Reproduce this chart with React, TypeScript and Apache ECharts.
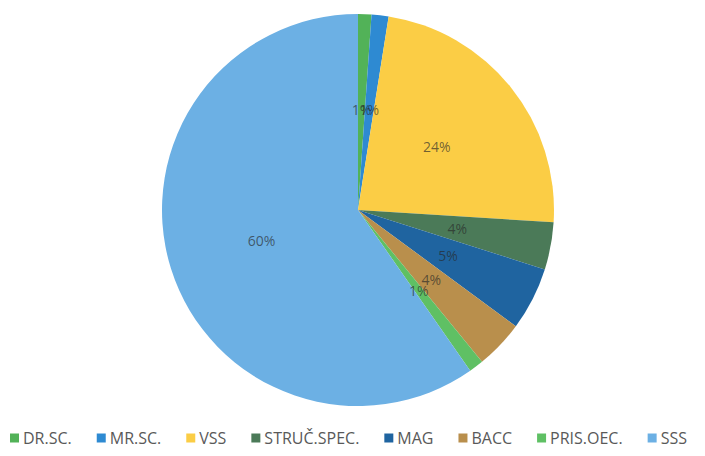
import React, { useEffect, useRef } from "react";
import * as echarts from "echarts";

const categories = ["DR.SC.", "MR.SC.", "VSS", "STRUČ.SPEC.", "MAG", "BACC", "PRIS.OEC.", "SSS"];
const values = [1.1, 1.4, 23.5, 3.9, 5.2, 4.0, 1.2, 59.7];
const colors = ["#52b258", "#2e8ad2", "#fbcd45", "#4b7a58", "#1f64a0", "#b98f4c", "#5fc064", "#6cb0e4"];

export default function App() {
  const ref = useRef<HTMLDivElement>(null);
  useEffect(() => {
    document.body.style.margin = "0";
    const chart = echarts.init(ref.current!, null, { renderer: "svg" });
    const total = values.reduce((a, b) => a + b, 0);
    chart.setOption({
      animation: false,
      backgroundColor: "#ffffff",
      color: colors,
      legend: {
        data: categories,
        left: 5,
        top: 425,
        padding: [5, 0, 5, 5],
        itemWidth: 9,
        itemHeight: 9,
        itemGap: 25,
        icon: "rect",
        textStyle: { fontFamily: "Open Sans", fontSize: 16, color: "#595959", padding: [0, 0, 0, -1] },
      },
      series: [
        {
          type: "pie",
          center: [358, 210],
          radius: [0, 196],
          startAngle: 90,
          clockwise: true,
          avoidLabelOverlap: false,
          label: {
            show: true,
            position: "inside",
            rotate: 0.01,
            fontFamily: "Open Sans",
            fontSize: 14,
            color: "rgba(40,40,40,0.66)",
            formatter: (p: any) => Math.round((p.value / total) * 100) + "%",
          },
          labelLayout: { hideOverlap: false },
          labelLine: { show: false },
          itemStyle: { borderWidth: 0 },
          emphasis: { disabled: true },
          data: categories.map((c, i) => ({ name: c, value: values[i] })),
        },
      ],
    });
    return () => chart.dispose();
  }, []);
  return <div ref={ref} style={{ width: 705, height: 456 }} />;
}
